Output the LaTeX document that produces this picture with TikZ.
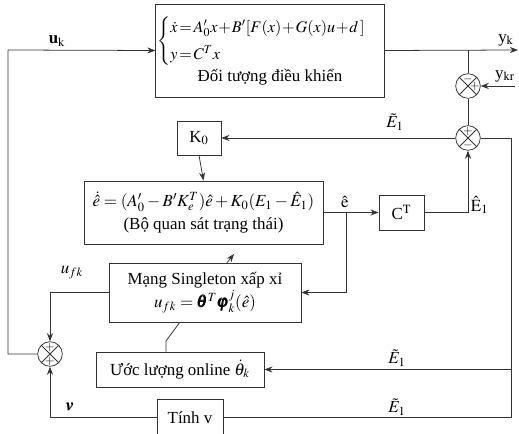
\documentclass[tikz,border=0pt]{standalone}
\usepackage{amsmath,amssymb}
\usepackage{mathptmx}
\usepackage[no-math]{fontspec}
\setmainfont{Liberation Serif}
\usepackage{tikz}
\usetikzlibrary{arrows.meta,calc}

\begin{document}
\begin{tikzpicture}[>=Stealth, x=0.65pt, y=-0.65pt, line width=0.5pt, draw=black!80,
  blk/.style={draw=black!80, rectangle, inner sep=1pt, align=center, font=\fontsize{11}{15}\selectfont},
  sumj/.style={draw=black!80, circle, minimum size=16pt, inner sep=0pt,
    path picture={\draw[black!80] (path picture bounding box.north west) -- (path picture bounding box.south east)
      (path picture bounding box.north east) -- (path picture bounding box.south west);}},
  sgn/.style={font=\footnotesize, inner sep=0pt},
  lab/.style={font=\fontsize{11}{13}\selectfont, inner sep=1pt}]
\useasboundingbox (0,0) rectangle (519,434);
% blocks
\node[blk, minimum width=135.2pt, minimum height=60.5pt] (plant) at (270,50.5)
  {\fontsize{10.5}{13}\selectfont$\medmuskip=1mu\thickmuskip=2mu
   \begin{cases} \dot x = A'_0x + B'[F(x) + G(x)u + d\,] \\[2pt] y = C^T x \end{cases}$\\[1pt] Đối tượng điều khiển};
\node[blk, minimum width=28.6pt, minimum height=22.1pt] (K0) at (199,138) {K$_0$};
\node[blk, minimum width=155.4pt, minimum height=41pt] (obs) at (203.5,212.5)
  {$\dot{\hat e} = (A'_0 - B'K_e^T)\hat e + K_0(E_1 - \hat E_1)$\\ (Bộ quan sát trạng thái)};
\node[blk, minimum width=29.3pt, minimum height=22.8pt] (CT) at (401.5,212.5) {C$^{\mathrm{T}}$};
\node[blk, minimum width=124.8pt, minimum height=38.4pt] (single) at (205,292.5)
  {Mạng Singleton xấp xỉ\\ $u_{fk} = \pmb{\theta}^T \pmb{\varphi}^{j}_{k}(\hat e)$};
\node[blk, minimum width=109.2pt, minimum height=22.8pt] (uoc) at (180,369.5) {Ước lượng online $\dot\theta_k$};
\node[blk, minimum width=42.9pt, minimum height=24pt] (tinh) at (190,417.5) {Tính v};
% summing junctions
\node[sumj] (s1) at (468,86) {};
\node[sumj] (s2) at (468,138) {};
\node[sumj] (s3) at (50,354) {};
\foreach \n/\dx/\dy/\s in {s1/0/-7/-, s1/7/0/+, s2/0/-7/+, s2/0/7/-, s3/0/-7/+, s3/0/7/+}
  \node[sgn] at ($(\n)+(\dx,\dy)$) {$\s$};
% free ends
\coordinate (ul) at (8,50);
\coordinate (yout) at (518,50);
\coordinate (yb) at (468,50);
\coordinate (ykr) at (515,86);
\coordinate (rm) at (511,369.5);
\coordinate (rb) at (511,417.5);
\coordinate (ebr) at (346,212.5);
\coordinate (sa) at (226,264);
\coordinate (sb) at (180,322);
\coordinate (kink) at (166,341);
% connectors
\draw[->] (s3.west) -| (ul) -- (plant.west);
\draw[->] (plant.east) -- (yout);
\draw (yb) -- (s1.north);
\draw[->] (ykr) -- (s1.east);
\draw (s1.south) -- (s2.north);
\draw[->] (s2.west) -- (K0.east);
\draw (s2.east) -| (rb) -- (tinh.east);
\draw[->] (rm) -- (uoc.east);
\draw[->] (K0.south) -- (obs.north);
\draw[->] (obs.east) -- (CT.west);
\draw[->] (ebr) |- (single.east);
\draw[->] (CT.east) -| (s2.south);
\draw[->] (single.west) -| (s3.north);
\draw[->] (tinh.west) -| (s3.south);
\draw[->] (sa) -- ++(8,-10);
\draw (sb) -- (kink) -- (kink |- uoc.north);
% signal labels
\node[lab] at (57,41) {$\mathbf{u}_{\mathrm{k}}$};
\node[lab] at (506,40) {y$_{\mathrm{k}}$};
\node[lab] at (505,76) {y$_{\mathrm{kr}}$};
\node[lab] at (395,122) {$\tilde E_1$};
\node[lab] at (345,202) {$\hat{\mathrm{e}}$};
\node[lab, right] at (469,205) {$\hat{\mathrm{E}}_1$};
\node[lab] at (72,273) {$u_{fk}$};
\node[lab] at (397,358) {$\tilde E_1$};
\node[lab] at (397,407) {$\tilde E_1$};
\node[lab] at (70,407) {$\pmb{v}$};
\end{tikzpicture}
\end{document}
